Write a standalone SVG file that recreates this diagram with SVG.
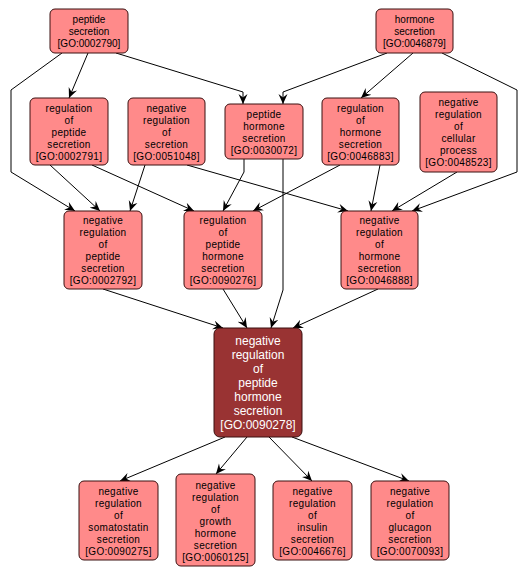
<svg xmlns="http://www.w3.org/2000/svg" width="527" height="578" viewBox="0 0 527 578">
<defs>
<marker id="arr" viewBox="0 0 10 10" markerUnits="userSpaceOnUse" markerWidth="10" markerHeight="10" refX="10" refY="5" orient="auto">
<path d="M0,0.5 L10,5 L0,9.5 L3.5,5 z" fill="#000"/>
</marker>
<style>
.n rect{fill:#ff8a8a;stroke:#3a1010;stroke-width:1}
.n text{font-family:"Liberation Sans",Arial,sans-serif;font-size:10px;letter-spacing:0.3px;fill:#000;text-anchor:middle}
.t text{letter-spacing:0px}
.m rect{fill:#993333;stroke:#3a1010;stroke-width:1}
.m text{font-family:"Liberation Sans",Arial,sans-serif;font-size:12px;fill:#fff;text-anchor:middle}
#edges path{fill:none;stroke:#000;stroke-width:1;marker-end:url(#arr)}
</style>
</defs>
<rect width="527" height="578" fill="#fff"/>
<g id="edges">
<path d="M88,53 L69,98"/>
<path d="M116,53 L243,92 L243,104"/>
<path d="M62,53 L11,90 L11,172 L75,211"/>
<path d="M50,165 L100,211"/>
<path d="M145,165 L130,211"/>
<path d="M92,165 L194,211"/>
<path d="M244,159 L244,172 L223,211"/>
<path d="M340,165 L253,211"/>
<path d="M187,165 L348,211"/>
<path d="M283,159 L283,290 L271,328"/>
<path d="M380,165 L371,211"/>
<path d="M457,172 L392,211"/>
<path d="M442,53 L517,90 L517,172 L412,211"/>
<path d="M387,53 L283,92 L283,104"/>
<path d="M413,53 L361,98"/>
<path d="M103,289 L223,328"/>
<path d="M223,289 L247,328"/>
<path d="M378,289 L293,328"/>
<path d="M225,437 L120,481"/>
<path d="M247,437 L216,474"/>
<path d="M269,437 L312,481"/>
<path d="M292,437 L409,481"/>
</g>
<g id="GO0002790" class="n t"><rect x="50" y="9" width="78" height="44" rx="5"/>
<text x="89" y="23">peptide</text><text x="89" y="35">secretion</text><text x="89" y="47">[GO:0002790]</text></g>
<g id="GO0046879" class="n t"><rect x="376" y="9" width="77" height="44" rx="5"/>
<text x="414.5" y="23">hormone</text><text x="414.5" y="35">secretion</text><text x="414.5" y="47">[GO:0046879]</text></g>
<g id="GO0002791" class="n"><rect x="30" y="98" width="78" height="67" rx="5"/>
<text x="69" y="111.5">regulation</text><text x="69" y="123.5">of</text><text x="69" y="135.5">peptide</text><text x="69" y="147.5">secretion</text><text x="69" y="159.5">[GO:0002791]</text></g>
<g id="GO0051048" class="n"><rect x="128" y="98" width="77" height="67" rx="5"/>
<text x="166.5" y="111.5">negative</text><text x="166.5" y="123.5">regulation</text><text x="166.5" y="135.5">of</text><text x="166.5" y="147.5">secretion</text><text x="166.5" y="159.5">[GO:0051048]</text></g>
<g id="GO0030072" class="n"><rect x="225" y="104" width="78" height="55" rx="5"/>
<text x="264" y="117.5">peptide</text><text x="264" y="129.5">hormone</text><text x="264" y="141.5">secretion</text><text x="264" y="153.5">[GO:0030072]</text></g>
<g id="GO0046883" class="n"><rect x="322" y="98" width="77" height="67" rx="5"/>
<text x="360.5" y="111.5">regulation</text><text x="360.5" y="123.5">of</text><text x="360.5" y="135.5">hormone</text><text x="360.5" y="147.5">secretion</text><text x="360.5" y="159.5">[GO:0046883]</text></g>
<g id="GO0048523" class="n"><rect x="420" y="92" width="77" height="80" rx="5"/>
<text x="458.5" y="106">negative</text><text x="458.5" y="118">regulation</text><text x="458.5" y="130">of</text><text x="458.5" y="142">cellular</text><text x="458.5" y="154">process</text><text x="458.5" y="166">[GO:0048523]</text></g>
<g id="GO0002792" class="n"><rect x="64" y="211" width="78" height="78" rx="5"/>
<text x="103" y="224">negative</text><text x="103" y="236">regulation</text><text x="103" y="248">of</text><text x="103" y="260">peptide</text><text x="103" y="272">secretion</text><text x="103" y="284">[GO:0002792]</text></g>
<g id="GO0090276" class="n"><rect x="184" y="211" width="78" height="78" rx="5"/>
<text x="223" y="224">regulation</text><text x="223" y="236">of</text><text x="223" y="248">peptide</text><text x="223" y="260">hormone</text><text x="223" y="272">secretion</text><text x="223" y="284">[GO:0090276]</text></g>
<g id="GO0046888" class="n"><rect x="341" y="211" width="77" height="78" rx="5"/>
<text x="379.5" y="224">negative</text><text x="379.5" y="236">regulation</text><text x="379.5" y="248">of</text><text x="379.5" y="260">hormone</text><text x="379.5" y="272">secretion</text><text x="379.5" y="284">[GO:0046888]</text></g>
<g id="GO0090278" class="m"><rect x="214" y="328" width="88" height="109" rx="6"/>
<text x="258" y="345">negative</text><text x="258" y="359">regulation</text><text x="258" y="373">of</text><text x="258" y="387">peptide</text><text x="258" y="401">hormone</text><text x="258" y="415">secretion</text><text x="258" y="429">[GO:0090278]</text></g>
<g id="GO0090275" class="n"><rect x="79" y="481" width="79" height="79" rx="5"/>
<text x="118.5" y="494.5">negative</text><text x="118.5" y="506.5">regulation</text><text x="118.5" y="518.5">of</text><text x="118.5" y="530.5">somatostatin</text><text x="118.5" y="542.5">secretion</text><text x="118.5" y="554.5">[GO:0090275]</text></g>
<g id="GO0060125" class="n"><rect x="176" y="474" width="79" height="92" rx="5"/>
<text x="215.5" y="488.5">negative</text><text x="215.5" y="500.5">regulation</text><text x="215.5" y="512.5">of</text><text x="215.5" y="524.5">growth</text><text x="215.5" y="536.5">hormone</text><text x="215.5" y="548.5">secretion</text><text x="215.5" y="560.5">[GO:0060125]</text></g>
<g id="GO0046676" class="n"><rect x="273" y="481" width="79" height="79" rx="5"/>
<text x="312.5" y="494.5">negative</text><text x="312.5" y="506.5">regulation</text><text x="312.5" y="518.5">of</text><text x="312.5" y="530.5">insulin</text><text x="312.5" y="542.5">secretion</text><text x="312.5" y="554.5">[GO:0046676]</text></g>
<g id="GO0070093" class="n"><rect x="371" y="481" width="78" height="79" rx="5"/>
<text x="410" y="494.5">negative</text><text x="410" y="506.5">regulation</text><text x="410" y="518.5">of</text><text x="410" y="530.5">glucagon</text><text x="410" y="542.5">secretion</text><text x="410" y="554.5">[GO:0070093]</text></g>
</svg>
